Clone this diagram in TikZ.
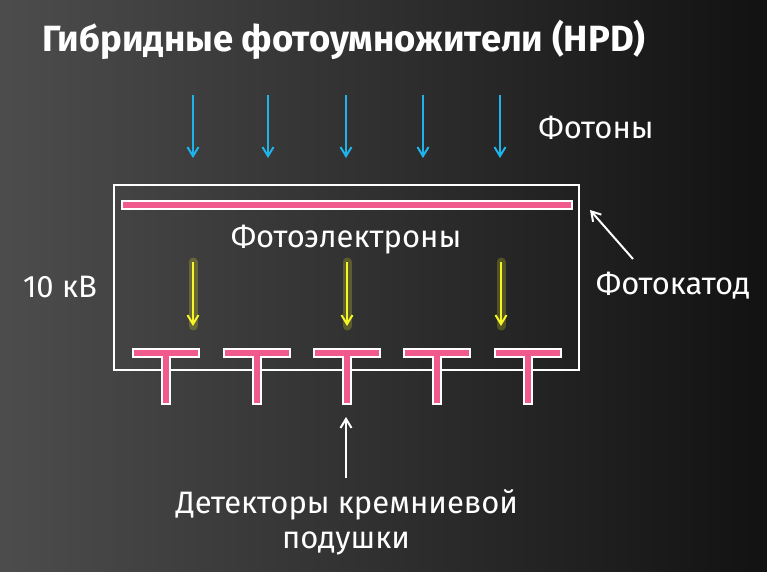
\documentclass[tikz,border=0pt]{standalone}
\usepackage{fontspec}
\setmainfont{Fira Sans}
\usetikzlibrary{arrows.meta}
\definecolor{pinkc}{RGB}{240,90,140}
\definecolor{cyanc}{RGB}{30,180,235}
\definecolor{yelc}{RGB}{245,245,40}
\tikzset{
  lbl/.style={text=white,font=\fontsize{31}{36}\selectfont,inner sep=0pt},
  photon/.style={cyanc,line width=2pt,-{Straight Barb[length=9pt,width=11pt,line width=2pt]}},
  elec/.style={yelc,line width=2pt,-{Straight Barb[length=9pt,width=11pt,line width=2pt]}},
  glow/.style={yelc,opacity=0.22,line width=9pt,line cap=round},
  pointer/.style={white,line width=2pt,-{Straight Barb[length=9pt,width=11pt,line width=2pt]}},
}
\begin{document}
\begin{tikzpicture}[x=1pt,y=-1pt]
\useasboundingbox (0,0) rectangle (767,571);
\shade[left color=black!70,right color=black!93] (0,0) rectangle (767,571);
% title
\node[lbl,font=\fontsize{36.5}{42}\selectfont\bfseries,anchor=west] (title) at (42,40) {Гибридные фотоумножители (HPD)};
% box
\draw[white,line width=2pt] (114,185) rectangle (579,370);
% photocathode
\draw[white,line width=1.5pt,fill=pinkc] (122,201) rectangle (572,209);
% T detectors
\foreach \cx/\nm in {166/t1,256.5/t2,346.5/t3,437/t4,527.5/t5}{
  \fill[white] (\cx-34,348) rectangle (\cx+34,358);
  \fill[white] (\cx-5,348) rectangle (\cx+5,405);
  \fill[pinkc] (\cx-32,350) rectangle (\cx+32,356);
  \fill[pinkc] (\cx-3,350) rectangle (\cx+3,403);
  \coordinate (\nm) at (\cx,405);
}
% photons
\foreach \x [count=\i] in {193,268,346,423,500}{
  \coordinate (ps\i) at (\x,95);
  \coordinate (pe\i) at (\x,158);
  \draw[photon] (ps\i) -- (pe\i);
}
% electrons
\foreach \x [count=\i] in {193,347,501}{
  \coordinate (es\i) at (\x,262);
  \coordinate (ee\i) at (\x,326);
  \draw[glow] (es\i) -- (ee\i);
  \draw[elec] (es\i) -- (ee\i);
}
% labels
\node[lbl] (photons) at (596,128) {Фотоны};
\node[lbl] (pelec) at (346,240) {Фотоэлектроны};
\node[lbl] (kv) at (60,287) {10 кВ};
\node[lbl] (cath) at (673,286) {Фотокатод};
\node[lbl] (det1) at (347,505) {Детекторы кремниевой};
\node[lbl] (det2) at (346,543) {подушки};
% pointers
\coordinate (cathtail) at (633,259);
\coordinate (cathtip) at (590,210);
\draw[pointer] (cathtail) -- (cathtip);
\coordinate (dettail) at (346,478);
\coordinate (dettip) at (346,417);
\draw[pointer] (dettail) -- (dettip);
\end{tikzpicture}
\end{document}
